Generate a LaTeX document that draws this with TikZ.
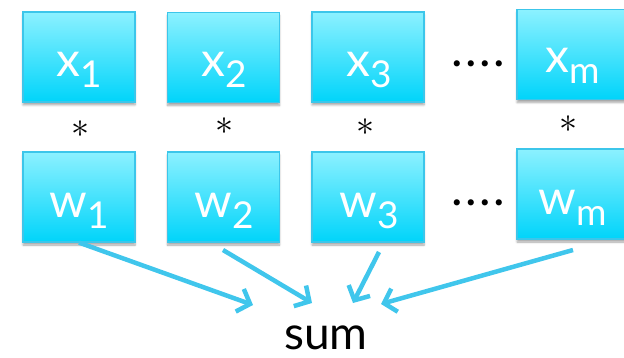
\documentclass[tikz,border=0pt]{standalone}
\usepackage{fontspec}
\setmainfont{Lato}
\usetikzlibrary{arrows.meta,shadows.blur}
\definecolor{boxtop}{HTML}{8CF1FF}
\definecolor{boxbot}{HTML}{00D4FA}
\definecolor{boxline}{HTML}{3CC6EA}
\definecolor{arrowc}{HTML}{40C6EC}
\newcommand\mysub[1]{\raisebox{-11pt}{\fontsize{37}{37}\selectfont #1}}
\tikzset{
  box/.style={rectangle, minimum width=112pt, minimum height=90pt, inner sep=0pt,
    top color=boxtop, bottom color=boxbot, draw=boxline, line width=1.2pt,
    blur shadow={shadow xshift=0pt, shadow yshift=-3pt, shadow blur steps=6, shadow opacity=35}},
  lbl/.style={text=white, font=\fontsize{48}{48}\selectfont, inner sep=0pt, anchor=base},
  star/.style={inner sep=0pt},
  dots/.style={font=\fontsize{49}{49}\selectfont, inner sep=0pt, anchor=base},
  arr/.style={draw=arrowc, line width=4.5pt, -{Straight Barb[length=11pt,width=24pt,line width=4.5pt]}}
}
\newcommand\bigast{\scalebox{3.6}{$\ast$}}
\begin{document}
\begin{tikzpicture}[x=1pt,y=-1pt]
\useasboundingbox (0,0) rectangle (624,358);
% top row
\node[box] (x1) at (79,57) {};
\node[box] (x2) at (223.5,57.5) {};
\node[box] (x3) at (368,57) {};
\node[box] (xm) at (573,54.5) {};
\node[lbl] (x1t) at (79,77) {x\mysub{1}};
\node[lbl] (x2t) at (224,77) {x\mysub{2}};
\node[lbl] (x3t) at (369,77) {x\mysub{3}};
\node[lbl] (xmt) at (573,73) {x\mysub{m}};
% bottom row
\node[box] (w1) at (79,197) {};
\node[box] (w2) at (223.5,197) {};
\node[box] (w3) at (368,197) {};
\node[box] (wm) at (573,194) {};
\node[lbl] (w1t) at (79,218) {w\mysub{1}};
\node[lbl] (w2t) at (224,218) {w\mysub{2}};
\node[lbl] (w3t) at (369,218) {w\mysub{3}};
\node[lbl] (wmt) at (573,215) {w\mysub{m}};
% stars
\node[star] (s1) at (80,129) {\bigast};
\node[star] (s2) at (224,126) {\bigast};
\node[star] (s3) at (365,127) {\bigast};
\node[star] (sm) at (568,124) {\bigast};
% dots
\node[dots] (d1) at (478,67) {.\kern2.5pt.\kern2.5pt.\kern2.5pt.};
\node[dots] (d2) at (478,206) {.\kern2.5pt.\kern2.5pt.\kern2.5pt.};
% sum
\node[font=\fontsize{46}{46}\selectfont, inner sep=0pt, anchor=base] (sum) at (326,349) {sum};
\coordinate (e1) at (253,305);
\coordinate (e2) at (312,303);
\coordinate (e3) at (353,303);
\coordinate (em) at (381,304);
\coordinate (b2) at (223,250);
\coordinate (b3) at (379,252);
\coordinate (bm) at (573,250);
\draw[arr] (w1.south) -- (e1);
\draw[arr] (b2) -- (e2);
\draw[arr] (b3) -- (e3);
\draw[arr] (bm) -- (em);
\end{tikzpicture}
\end{document}
